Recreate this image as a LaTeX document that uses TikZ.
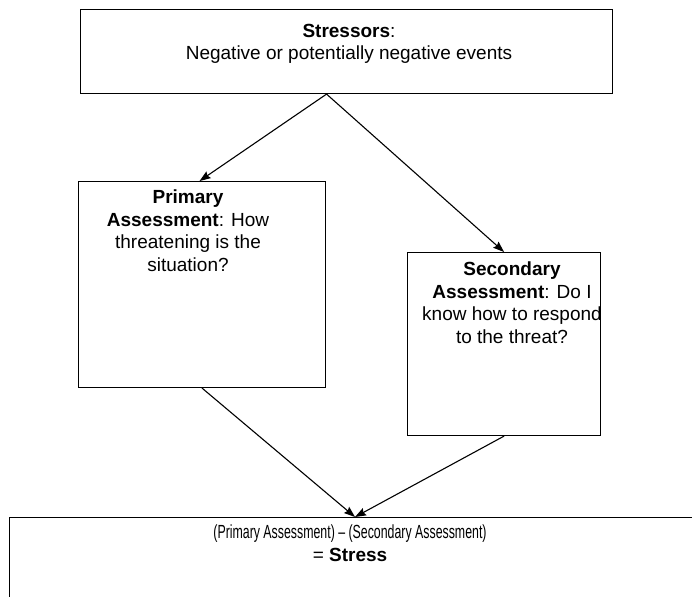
\documentclass[tikz,border=0pt]{standalone}
\usepackage{fontspec}
\setmainfont{Liberation Sans}
\usepackage{graphicx}
\usetikzlibrary{arrows.meta,calc}
\begin{document}
\begin{tikzpicture}[x=1pt,y=-1pt,
  box/.style={draw=black,line width=1.1pt,inner sep=0pt,anchor=north west},
  txt/.style={align=center,inner sep=0pt,anchor=north,font=\fontsize{19}{22.5}\selectfont},
  conn/.style={line width=1.1pt,-{Stealth[length=11pt,width=8pt,inset=1.5pt]}},
  line/.style={line width=1.1pt}]
\useasboundingbox (0,0) rectangle (692,596);
\begin{scope}
\clip (0,0) rectangle (692,596);
\node[box,minimum width=532pt,minimum height=84pt] (top) at (80,9) {};
\node[box,minimum width=247pt,minimum height=206pt] (prim) at (78,181) {};
\node[box,minimum width=193pt,minimum height=183pt] (sec) at (407,252) {};
\node[box,minimum width=720pt,minimum height=120pt] (bot) at (9,517) {};
\end{scope}
\node[txt] (ttop) at (349,24) {\textbf{Stressors}:\\Negative or potentially negative events};
\node[txt] (tprim) at (188,190) {\textbf{Primary}\\\textbf{Assessment}: How\\threatening is the\\situation?};
\node[txt] (tsec) at (512,262) {\textbf{Secondary}\\\textbf{Assessment}: Do I\\know how to respond\\to the threat?};
\node[txt] (tbot) at (350,525) {\scalebox{0.65}[1]{(Primary Assessment) – (Secondary Assessment)}\\= \textbf{Stress}};
\coordinate (split) at ($(top.south)+(-20,0)$);
\coordinate (ptop) at ($(prim.north)+(-2.5,0)$);
\coordinate (join) at ($(bot.north west)+(346,0)$);
\draw[conn] (split) -- (ptop);
\draw[conn] (split) -- (sec.north);
\draw[conn] (prim.south) -- (join);
\draw[conn] (sec.south) -- (join);
\end{tikzpicture}
\end{document}
